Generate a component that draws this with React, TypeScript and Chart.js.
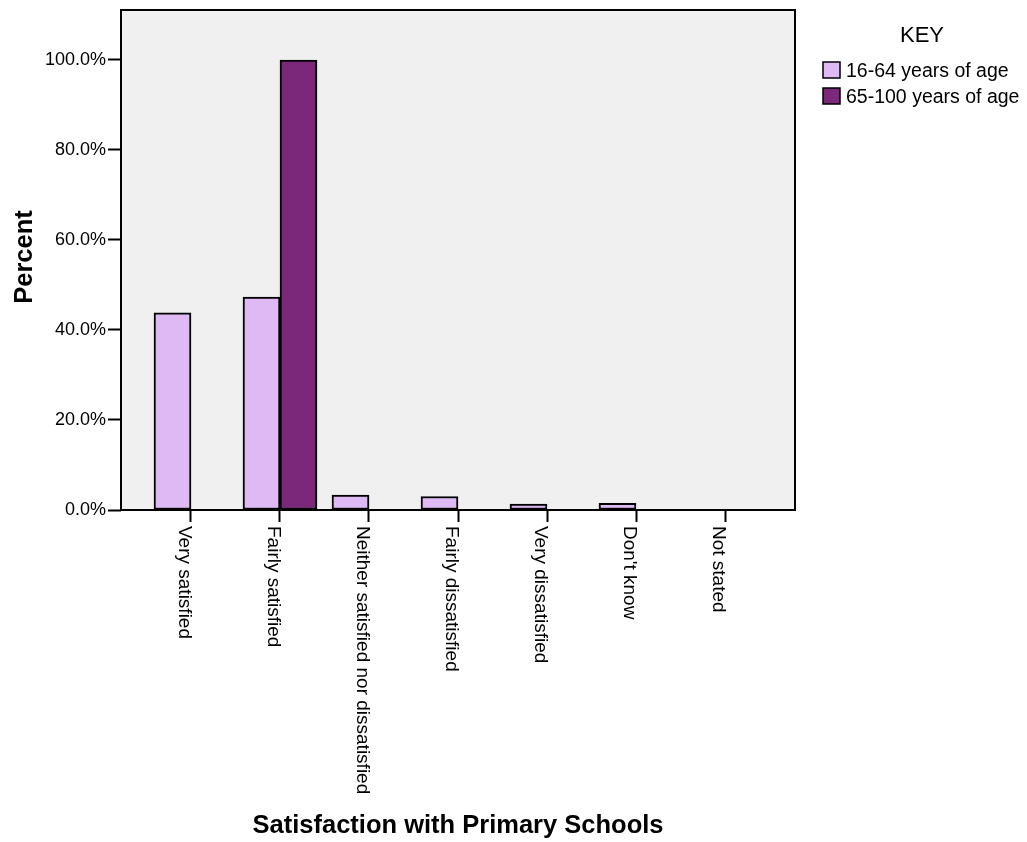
import React, { useEffect, useRef } from 'react';
import { Chart, registerables } from 'chart.js';

Chart.register(...registerables);

const CATEGORIES = [
  'Very satisfied',
  'Fairly satisfied',
  'Neither satisfied nor dissatisfied',
  'Fairly dissatisfied',
  'Very dissatisfied',
  "Don't know",
  'Not stated',
];
const SERIES_NAMES = ['16-64 years of age', '65-100 years of age'];
const AGE_16_64 = [43.8, 47.3, 3.3, 3.0, 1.3, 1.5, 0];
const AGE_65_100 = [0, 100, 0, 0, 0, 0, 0];
const Y_TICKS = [0, 20, 40, 60, 80, 100];

const LIGHT = '#DEB9F3';
const DARK = '#7B287B';
const FONT = '"Liberation Sans", Arial, sans-serif';

const decorPlugin = {
  id: 'decor',
  beforeDraw(chart: any) {
    const { ctx, chartArea: a } = chart;
    ctx.save();
    ctx.fillStyle = '#FFFFFF';
    ctx.fillRect(0, 0, chart.width, chart.height);
    ctx.fillStyle = '#F0F0F0';
    ctx.fillRect(a.left, a.top, a.right - a.left, a.bottom - a.top);
    ctx.restore();
  },
  afterDraw(chart: any) {
    const { ctx, chartArea: a } = chart;
    const xScale = chart.scales.x;
    ctx.save();
    // frame
    ctx.strokeStyle = '#000';
    ctx.lineWidth = 2;
    ctx.strokeRect(a.left, a.top, a.right - a.left, a.bottom - a.top);

    // x tick labels (rotated clockwise, reading downward)
    ctx.fillStyle = '#000';
    ctx.font = `19px ${FONT}`;
    ctx.textAlign = 'left';
    ctx.textBaseline = 'alphabetic';
    CATEGORIES.forEach((label, i) => {
      const x = xScale.getPixelForValue(i);
      ctx.save();
      ctx.translate(x, a.bottom + 16);
      ctx.rotate(Math.PI / 2);
      ctx.fillText(label, 0, 12);
      ctx.restore();
    });

    // axis titles
    ctx.font = `bold 25.5px ${FONT}`;
    ctx.textAlign = 'center';
    ctx.fillText('Satisfaction with Primary Schools', (a.left + a.right) / 2, 833);
    ctx.save();
    ctx.translate(32, 257);
    ctx.rotate(-Math.PI / 2);
    ctx.fillText('Percent', 0, 0);
    ctx.restore();

    // legend
    ctx.font = `22px ${FONT}`;
    ctx.textAlign = 'center';
    ctx.fillText('KEY', 922, 42);
    const colors = [LIGHT, DARK];
    const boxTops = [62, 88];
    ctx.textAlign = 'left';
    ctx.font = `19.5px ${FONT}`;
    SERIES_NAMES.forEach((name, i) => {
      ctx.fillStyle = colors[i];
      ctx.fillRect(823, boxTops[i], 17, 16);
      ctx.strokeStyle = '#000';
      ctx.lineWidth = 1.5;
      ctx.strokeRect(823, boxTops[i], 17, 16);
      ctx.fillStyle = '#000';
      ctx.fillText(name, 846, boxTops[i] + 15);
    });
    ctx.restore();
  },
};

export default function App() {
  const canvasRef = useRef<HTMLCanvasElement | null>(null);

  useEffect(() => {
    const canvas = canvasRef.current;
    if (!canvas) return;
    const chart = new Chart(canvas, {
      type: 'bar',
      data: {
        datasets: [
          {
            label: SERIES_NAMES[0],
            data: AGE_16_64.map((v, i) => ({ x: i, y: v })),
            backgroundColor: LIGHT,
            borderColor: '#000',
            borderWidth: 2,
            borderSkipped: false,
            barThickness: 37,
          },
          {
            label: SERIES_NAMES[1],
            data: AGE_65_100.map((v, i) => ({ x: i, y: v })),
            backgroundColor: DARK,
            borderColor: '#000',
            borderWidth: 2,
            borderSkipped: false,
            barThickness: 37,
          },
        ],
      },
      options: {
        responsive: false,
        animation: false,
        layout: { padding: { top: 10, right: 232, left: 0, bottom: 0 } },
        plugins: {
          legend: { display: false },
          tooltip: { enabled: false },
        },
        scales: {
          x: {
            type: 'linear',
            offset: false,
            bounds: 'data',
            min: -0.7865,
            max: 6.7865,
            grid: {
              offset: false,
              drawOnChartArea: false,
              drawTicks: true,
              tickLength: 12,
              tickColor: '#000',
              tickWidth: 2,
            },
            border: { display: false },
            ticks: { display: false },
            afterBuildTicks: (scale: any) => {
              scale.ticks = CATEGORIES.map((_, i) => ({ value: i }));
            },
            afterFit: (scale: any) => {
              scale.height = 332;
              scale.paddingLeft = 0;
              scale.paddingRight = 0;
            },
          },
          y: {
            type: 'linear',
            bounds: 'data',
            min: 0,
            max: 111.11,
            grid: {
              drawOnChartArea: false,
              drawTicks: true,
              tickLength: 13,
              tickColor: '#000',
              tickWidth: 2,
            },
            border: { display: false },
            ticks: {
              color: '#000',
              padding: 2,
              font: { family: FONT, size: 18 },
              callback: (v: any) => Number(v).toFixed(1) + '%',
            },
            afterBuildTicks: (scale: any) => {
              scale.ticks = Y_TICKS.map((v) => ({ value: v }));
            },
            afterFit: (scale: any) => {
              scale.width = 121;
              scale.paddingTop = 0;
              scale.paddingBottom = 0;
            },
          },
        },
      },
      plugins: [decorPlugin],
    });
    return () => chart.destroy();
  }, []);

  return (
    <div style={{ position: 'absolute', left: 0, top: 0, width: 1027, height: 842 }}>
      <canvas ref={canvasRef} width={1027} height={842} />
    </div>
  );
}
